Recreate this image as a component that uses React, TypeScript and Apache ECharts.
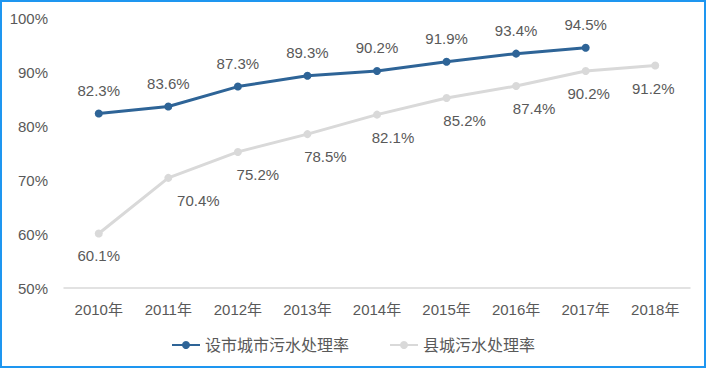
import React, { useEffect, useRef } from "react";
import * as echarts from "echarts";

const categories = ["2010年", "2011年", "2012年", "2013年", "2014年", "2015年", "2016年", "2017年", "2018年"];
const cityRate = [82.3, 83.6, 87.3, 89.3, 90.2, 91.9, 93.4, 94.5, null];
const countyRate = [60.1, 70.4, 75.2, 78.5, 82.1, 85.2, 87.4, 90.2, 91.2];
const seriesNames = ["设市城市污水处理率", "县城污水处理率"];
const yTicks = [50, 60, 70, 80, 90, 100];

const countyLabelShift = [0, 30, 20, 18, 16, 18, 18, 3, -2];

export default function App() {
  const ref = useRef<HTMLDivElement>(null);
  useEffect(() => {
    document.body.style.margin = "0";
    const chart = echarts.init(ref.current!, null, { renderer: "svg" });
    const font = "'Liberation Sans', 'Noto Sans CJK SC', sans-serif";
    chart.setOption({
      animation: false,
      backgroundColor: "#ffffff",
      textStyle: { fontFamily: font },
      graphic: [
        {
          type: "rect",
          shape: { x: 1, y: 1, width: 704, height: 366 },
          style: { fill: "none", stroke: "#1E96F0", lineWidth: 2 },
          silent: true,
        },
      ],
      grid: { left: 64, right: 16, top: 18, bottom: 80, containLabel: false },
      xAxis: {
        type: "category",
        data: categories,
        boundaryGap: true,
        axisLine: { lineStyle: { color: "#D9D9D9", width: 1.5 } },
        axisTick: { show: false },
        axisLabel: { color: "#595959", fontSize: 15, margin: 14, fontFamily: font },
      },
      yAxis: {
        type: "value",
        min: yTicks[0],
        max: yTicks[yTicks.length - 1],
        interval: 10,
        splitLine: { show: false },
        axisLine: { show: false },
        axisTick: { show: false },
        axisLabel: { color: "#595959", fontSize: 15, margin: 16, formatter: "{value}%", fontFamily: font },
      },
      legend: {
        bottom: 10,
        left: "center",
        itemWidth: 28,
        itemHeight: 10,
        itemGap: 40,
        textStyle: { color: "#595959", fontSize: 16, fontFamily: font },
        data: seriesNames,
      },
      series: [
        {
          name: seriesNames[0],
          type: "line",
          data: cityRate,
          color: "#2E6497",
          lineStyle: { width: 3, color: "#2E6497" },
          symbol: "circle",
          symbolSize: 8,
          itemStyle: { color: "#2E6497" },
          label: {
            show: true,
            position: "top",
            distance: 12,
            color: "#595959",
            fontSize: 15,
            fontFamily: font,
            formatter: (p: any) => p.value.toFixed(1) + "%",
          },
        },
        {
          name: seriesNames[1],
          type: "line",
          data: countyRate.map((v, i) => ({
            value: v,
            label: { offset: [countyLabelShift[i], 0] },
          })),
          color: "#D9D9D9",
          lineStyle: { width: 3, color: "#D9D9D9" },
          symbol: "circle",
          symbolSize: 8,
          itemStyle: { color: "#D9D9D9" },
          label: {
            show: true,
            position: "bottom",
            distance: 11,
            color: "#595959",
            fontSize: 15,
            fontFamily: font,
            formatter: (p: any) => p.value.toFixed(1) + "%",
          },
        },
      ],
    });
    return () => chart.dispose();
  }, []);
  return <div ref={ref} style={{ width: 706, height: 368 }} />;
}
